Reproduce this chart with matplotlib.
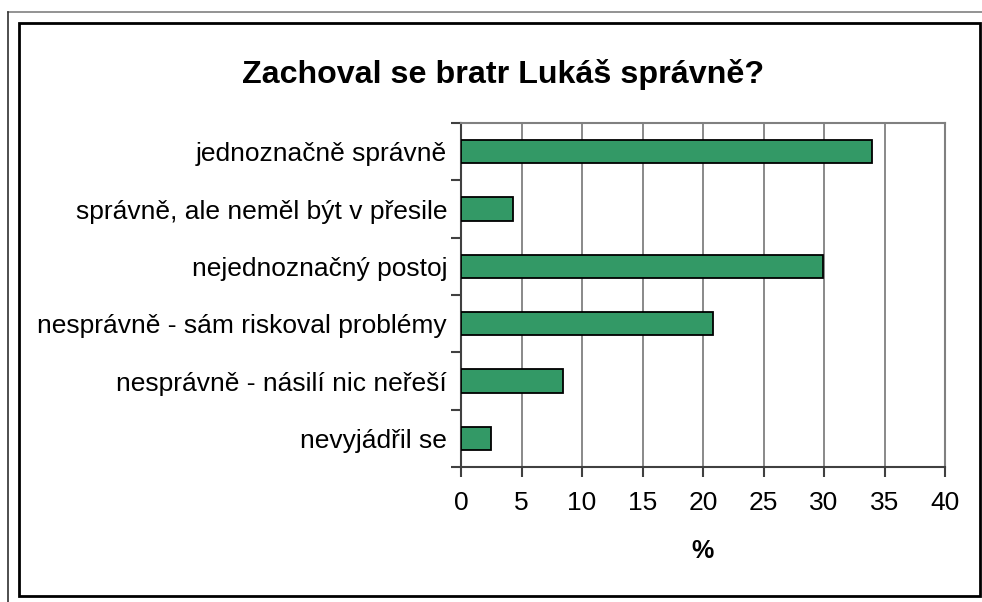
import matplotlib
matplotlib.use("Agg")
import matplotlib.pyplot as plt
import numpy as np
from matplotlib.lines import Line2D
from matplotlib.patches import Rectangle

plt.rcParams['font.family'] = ['Liberation Sans', 'DejaVu Sans']

categories = [
    "jednoznačně správně",
    "správně, ale neměl být v přesile",
    "nejednoznačný postoj",
    "nesprávně - sám riskoval problémy",
    "nesprávně - násilí nic neřeší",
    "nevyjádřil se",
]
values = [34.0, 4.3, 29.9, 20.8, 8.45, 2.5]
xticks = [0, 5, 10, 15, 20, 25, 30, 35, 40]
title = "Zachoval se bratr Lukáš správně?"
xlabel = "%"

W, H = 982, 602
fig = plt.figure(figsize=(W / 100, H / 100), dpi=100)

def fx(px):
    return px / W

def fy(py):
    return 1 - py / H

# outer gray frame (top and left lines)
fig.add_artist(Line2D([fx(8), fx(982)], [fy(12), fy(12)], color="#808080", lw=1.2, transform=fig.transFigure))
fig.add_artist(Line2D([fx(8), fx(8)], [fy(12), fy(602)], color="#303030", lw=1.2, transform=fig.transFigure))
# inner black frame
fig.add_artist(Rectangle((fx(19), fy(596)), fx(980) - fx(19), fy(23) - fy(596),
                         fill=False, edgecolor="black", lw=2.0, transform=fig.transFigure))

ax = fig.add_axes([fx(461), fy(467), fx(945) - fx(461), fy(123) - fy(467)])
y = np.arange(len(categories))
ax.barh(y, values, height=0.41, color="#339966", edgecolor="black", linewidth=1.3, zorder=3)
ax.set_ylim(len(categories) - 0.5, -0.5)
ax.set_xlim(0, 40)
ax.set_xticks(xticks)
ax.set_xticklabels([str(t) for t in xticks], fontsize=19)
ax.set_yticks(y)
ax.set_yticklabels(categories, fontsize=19)
ax.set_yticks(np.arange(len(categories) + 1) - 0.5, minor=True)
ax.tick_params(axis="y", which="major", length=0, pad=10)
ax.tick_params(axis="y", which="minor", length=7, width=1.5, color="#404040")
ax.tick_params(axis="x", which="major", length=7, width=1.5, color="#404040", pad=10)
ax.xaxis.grid(True, color="#808080", lw=1.3, zorder=0)
for s in ["top", "right"]:
    ax.spines[s].set_color("#808080")
    ax.spines[s].set_linewidth(1.5)
for s in ["left", "bottom"]:
    ax.spines[s].set_color("#404040")
    ax.spines[s].set_linewidth(1.5)

fig.text(fx(503), fy(75), title, fontsize=23.2, fontweight="bold", ha="center", va="center")
fig.text(fx(703), fy(551), xlabel, fontsize=18, fontweight="bold", ha="center", va="center")

fig.savefig("out.png", dpi=100)
